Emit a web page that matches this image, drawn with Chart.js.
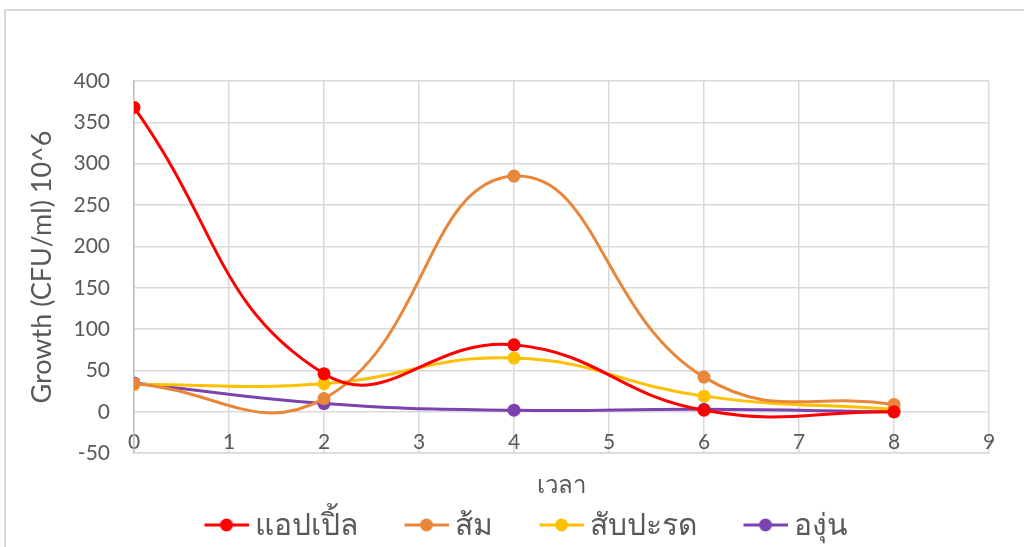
<!DOCTYPE html>
<html>
<head>
<meta charset="utf-8">
<script src="https://cdn.jsdelivr.net/npm/chart.js@4"></script>
<style>
  html, body { margin: 0; padding: 0; background: #fff; }
  #wrap { position: relative; width: 1024px; height: 547px; overflow: hidden; }
  #frame { position: absolute; left: 4px; top: 9px; width: 1040px; height: 600px; border: 2px solid #d9d9d9; box-sizing: border-box; }
  canvas { position: absolute; left: 0; top: 0; }
</style>
</head>
<body>
<div id="wrap">
  <div id="frame"></div>
  <canvas id="grafico" width="1024" height="547"></canvas>
</div>
<script>
// datos
var tiempos = [0, 2, 4, 6, 8];
var nombres = ['แอปเปิ้ล', 'ส้ม', 'สับปะรด', 'องุ่น'];
var manzana = [368, 46, 81, 2, 0];
var naranja = [34, 16, 285, 42, 9];
var pina = [33, 34, 65, 19, 3];
var uva = [35, 10, 2, 3, 0];
var colores = ['#ff0000', '#e8873a', '#ffc000', '#7b42b0'];

var fuente = "Lato, 'Open Sans', 'Noto Sans', sans-serif";
var gris = '#595959';

function puntos(valores) {
  return tiempos.map(function (t, i) { return { x: t, y: valores[i] }; });
}

// icono de leyenda: linea con circulo, pegado al texto
// (el lienzo es mas ancho que la caja para dejar hueco a la izquierda)
var anchoCaja = 72;
function iconoLeyenda(color) {
  var c = document.createElement('canvas');
  c.width = anchoCaja + 18; c.height = 16;
  var g = c.getContext('2d');
  var x0 = c.width - 44;
  g.strokeStyle = color;
  g.lineWidth = 3;
  g.beginPath(); g.moveTo(x0, 8); g.lineTo(x0 + 44, 8); g.stroke();
  g.fillStyle = color;
  g.beginPath(); g.arc(x0 + 22, 8, 6.5, 0, Math.PI * 2); g.fill();
  return c;
}

var series = [manzana, naranja, pina, uva];
var datasets = series.map(function (s, i) {
  return {
    label: nombres[i],
    data: puntos(s),
    borderColor: colores[i],
    backgroundColor: colores[i],
    borderWidth: 3,
    pointRadius: 6.5,
    pointBorderWidth: 0,
    tension: 0.45,
    showLine: true,
    pointStyle: 'circle',
    xAxisID: 'x'
  };
});

var ctx = document.getElementById('grafico');
new Chart(ctx, {
  type: 'scatter',
  data: { datasets: datasets },
  options: {
    responsive: false,
    animation: false,
    layout: { padding: { left: 26, right: 35, top: 81, bottom: -3 } },
    scales: {
      x: {
        type: 'linear',
        position: { y: 0 },
        min: 0, max: 9,
        grid: { color: '#d9d9d9', lineWidth: 1.5, drawTicks: false },
        border: { display: false },
        ticks: { stepSize: 1, color: gris, padding: 18, font: { family: fuente, size: 21 } }
      },
      // eje inferior solo para el titulo
      x2: {
        type: 'linear',
        position: 'bottom',
        min: 0, max: 9,
        grid: { display: false, drawTicks: false },
        border: { color: '#d9d9d9', width: 1.5 },
        ticks: { display: false },
        title: { display: true, text: 'เวลา', color: gris, font: { family: fuente, size: 24 }, padding: { top: 18, bottom: 0 } }
      },
      y: {
        min: -50, max: 400,
        afterFit: function (scale) { scale.width = 108; },
        ticks: { stepSize: 50, color: gris, padding: 24, font: { family: fuente, size: 21 } },
        grid: { color: '#d9d9d9', lineWidth: 1.5, drawTicks: false },
        border: { color: '#bfbfbf', width: 1.5 },
        title: { display: true, text: 'Growth (CFU/ml) 10^6', color: gris, font: { family: fuente, size: 27 }, padding: { top: 0, bottom: 0 } }
      }
    },
    plugins: {
      tooltip: { enabled: false },
      legend: {
        position: 'bottom',
        labels: {
          usePointStyle: true,
          pointStyleWidth: anchoCaja,
          padding: 10,
          color: gris,
          font: { family: fuente, size: 30 },
          generateLabels: function (chart) {
            return chart.data.datasets.map(function (d, i) {
              return {
                text: d.label,
                fillStyle: d.backgroundColor,
                strokeStyle: d.borderColor,
                fontColor: gris,
                pointStyle: iconoLeyenda(d.borderColor),
                lineWidth: 0,
                hidden: false,
                datasetIndex: i
              };
            });
          }
        }
      }
    }
  }
});
</script>
</body>
</html>
